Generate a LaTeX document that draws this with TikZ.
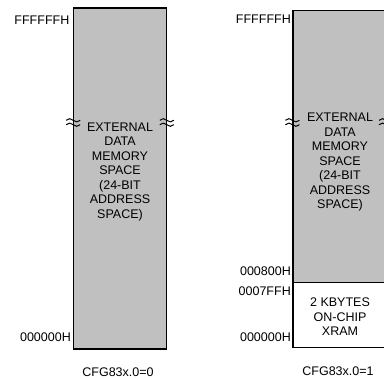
\documentclass[tikz,border=0pt]{standalone}
\usepackage{fontspec}
\setmainfont{Liberation Sans}
\definecolor{memgray}{RGB}{192,192,192}
\begin{document}
\begin{tikzpicture}[x=1pt,y=-1pt,
  txt/.style={inner sep=0pt,align=center,font=\fontsize{12.5}{14.5}\selectfont},
  addr/.style={inner sep=0pt,anchor=east,font=\fontsize{12.5}{14.5}\selectfont},
  region/.style={draw=black,line width=1.1pt,rectangle,inner sep=0pt,minimum width=92.5pt},
  breakmark/.pic={
    \draw[line width=1pt] (-7,-2.2) sin (-3.5,-3.8) cos (0,-2.2) sin (3.5,-0.6) cos (7,-2.2);
    \draw[line width=1pt] (-7,2.2) sin (-3.5,0.6) cos (0,2.2) sin (3.5,3.8) cos (7,2.2);
  }]
\useasboundingbox (0,0) rectangle (384,379);
% left map
\node[region,fill=memgray,minimum height=341pt] (extL) at (120,178.5) {};
\node[txt] (txtL) at (120,171.5) {EXTERNAL\\DATA\\MEMORY\\SPACE\\(24-BIT\\ADDRESS\\SPACE)};
\pic at (extL.west |- 0,122.5) {breakmark};
\pic at (extL.east |- 0,122.5) {breakmark};
\node[addr] (topL) at (69.5,20.5) {FFFFFFH};
\node[addr] (botL) at (71,337.5) {000000H};
\node[txt] (capL) at (118,372) {CFG83x.0=0};
% right map
\node[region,fill=memgray,minimum height=271.6pt] (extR) at (339.25,146.5) {};
\node[region,fill=white,minimum height=65.4pt] (xram) at (339.25,315) {};
\node[txt] (txtR) at (340,162.3) {EXTERNAL\\DATA\\MEMORY\\SPACE\\(24-BIT\\ADDRESS\\SPACE)};
\node[txt] (txtX) at (340,316.7) {2 KBYTES\\ON-CHIP\\XRAM};
\pic at (extR.west |- 0,122.5) {breakmark};
\pic at (extR.east |- 0,122.5) {breakmark};
\node[addr] (topR) at (291,19) {FFFFFFH};
\node[addr] (a800) at (291,271.5) {000800H};
\node[addr] (a7ff) at (291,291) {0007FFH};
\node[addr] (botR) at (291,337.5) {000000H};
\node[txt] (capR) at (338,371.5) {CFG83x.0=1};
\end{tikzpicture}
\end{document}
